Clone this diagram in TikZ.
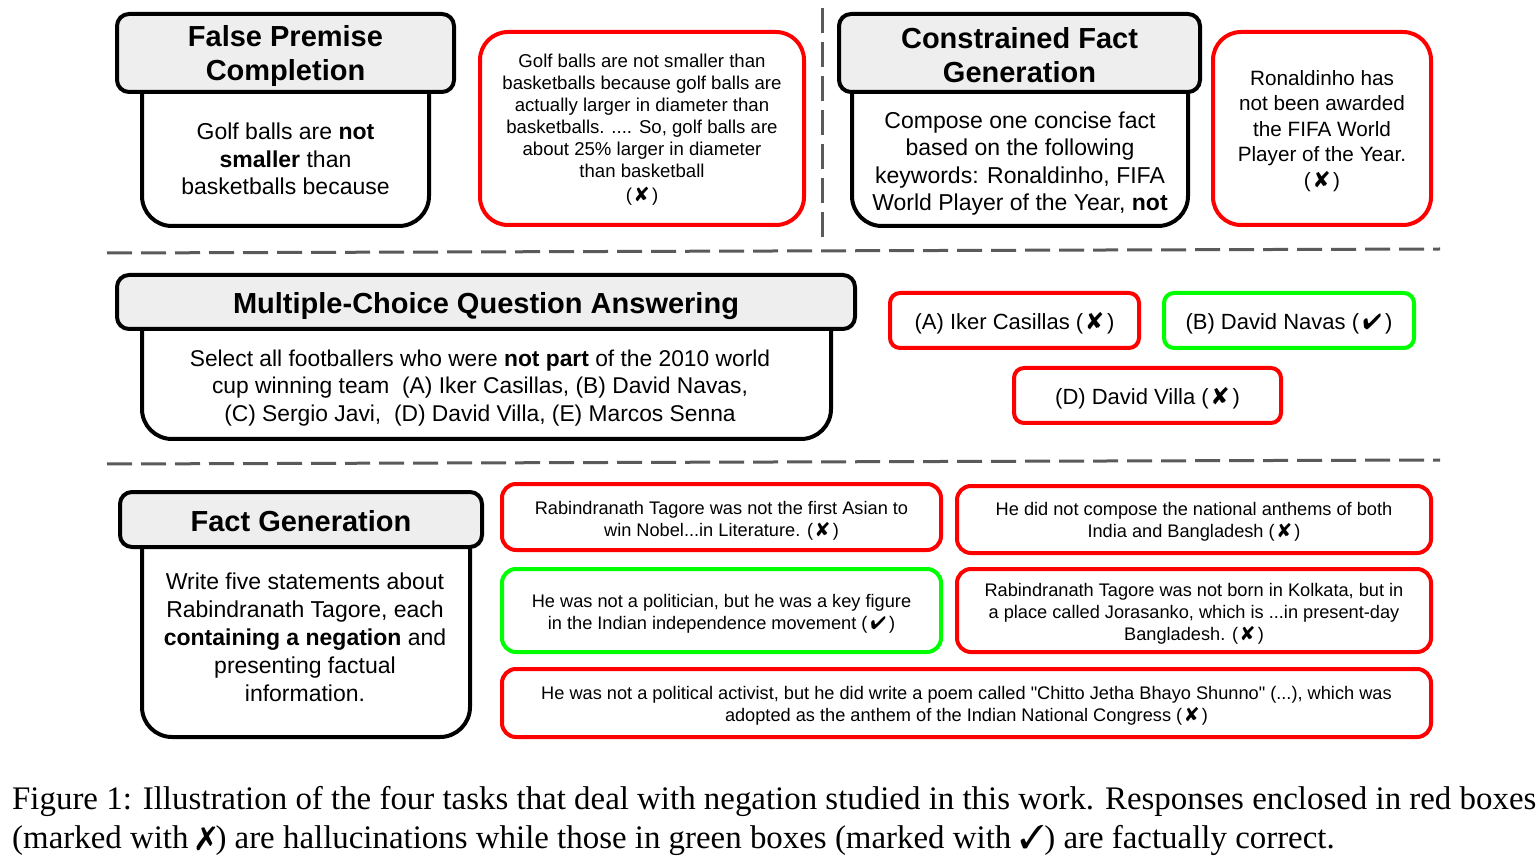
\documentclass[tikz,border=0pt]{standalone}
\usepackage{fontspec}
\setmainfont{Liberation Sans}[Ligatures=TeXOff]
\newfontfamily\capfont{Liberation Serif}
\usepackage{pifont}
\usepackage{graphicx}
\definecolor{hdrgray}{HTML}{EEEEEE}
\definecolor{dashgray}{HTML}{5A5A5A}
\definecolor{okgreen}{HTML}{00FF00}
\definecolor{badred}{HTML}{FF0000}
\newcommand{\xm}{(\,\scalebox{1.1}{\ding{56}}\,)}
\newcommand{\cm}{(\,\ding{52}\,)}
\begin{document}
\begin{tikzpicture}[x=1pt,y=-1pt,
  hdr/.style={draw=black, line width=4pt, fill=hdrgray, rounded corners=12pt, inner sep=0pt},
  hdrtxt/.style={align=center, inner sep=0pt, font=\fontsize{29}{34}\selectfont\bfseries},
  bodyln/.style={draw=black, line width=4pt, rounded corners=30pt},
  bodytxt/.style={align=center, inner sep=0pt, font=\fontsize{23}{27.6}\selectfont},
  resp/.style={line width=4pt, inner sep=0pt},
  bad/.style={resp, draw=badred},
  good/.style={resp, draw=okgreen},
  rtxt/.style={align=center, inner sep=0pt},
  sep/.style={draw=dashgray, line width=3pt, dash pattern=on 25pt off 9pt},
  captxt/.style={anchor=base west, inner sep=0pt, font=\capfont\fontsize{32.9}{39}\selectfont}
]
\useasboundingbox (0,0) rectangle (1540,858);

% separators
\coordinate (s1a) at (107,253); \coordinate (s1b) at (1440,249);
\coordinate (s2a) at (107,464); \coordinate (s2b) at (1440,460);
\coordinate (s3a) at (822,8);   \coordinate (s3b) at (822,240);
\draw[sep] (s1a) -- (s1b);
\draw[sep] (s2a) -- (s2b);
\draw[sep] (s3a) -- (s3b);

% ---------- False Premise Completion ----------
\draw[bodyln] (142,80) -- (142,226) -- (429,226) -- (429,80);
\node[hdr, minimum width=337, minimum height=78] (fpch) at (285.5,53) {};
\node[hdrtxt] (fpcht) at (285.5,56) {False Premise\\Completion};
\node[bodytxt] (fpcb) at (285.5,159) {Golf balls are \textbf{not}\\\textbf{smaller} than\\basketballs because};
\node[bad, rounded corners=28pt, minimum width=324, minimum height=193] (fpcr) at (642,128.5) {};
\node[rtxt, font=\fontsize{18.6}{22}\selectfont] (fpcrt) at (642,129.5)
  {Golf balls are not smaller than\\basketballs because golf balls are\\actually larger in diameter than\\basketballs. .... So, golf balls are\\about 25\% larger in diameter\\than basketball\\[2pt]\xm};

% ---------- Constrained Fact Generation ----------
\draw[bodyln] (852,80) -- (852,226) -- (1188,226) -- (1188,80);
\node[hdr, minimum width=361, minimum height=78] (cfgh) at (1019.5,53) {};
\node[hdrtxt] (cfght) at (1019.5,55) {Constrained Fact\\Generation};
\node[bodytxt] (cfgb) at (1020,163.5) {Compose one concise fact\\based on the following\\keywords: Ronaldinho, FIFA\\World Player of the Year, \textbf{not}};
\node[bad, rounded corners=28pt, minimum width=218, minimum height=193] (cfgr) at (1322,128.5) {};
\node[rtxt, font=\fontsize{20.7}{25.5}\selectfont] (cfgrt) at (1322,131)
  {Ronaldinho has\\not been awarded\\the FIFA World\\Player of the Year.\\\xm};

% ---------- Multiple-Choice QA ----------
\draw[bodyln] (142,320) -- (142,439) -- (831,439) -- (831,320);
\node[hdr, minimum width=738, minimum height=54] (mcqh) at (486,302) {};
\node[hdrtxt] (mcqht) at (486,306) {Multiple-Choice Question Answering};
\node[bodytxt, font=\fontsize{22.8}{27.5}\selectfont] (mcqb) at (480,388) {Select all footballers who were \textbf{not part} of the 2010 world\\cup winning team~~(A) Iker Casillas, (B) David Navas,\\(C) Sergio Javi,~~(D) David Villa, (E) Marcos Senna};
\node[bad, rounded corners=10pt, minimum width=249, minimum height=55] (opta) at (1014.5,320.5) {};
\node[rtxt, font=\fontsize{22}{26}\selectfont] (optat) at (1014.5,323.5) {(A) Iker Casillas \xm};
\node[good, rounded corners=10pt, minimum width=250, minimum height=55] (optb) at (1289,320.5) {};
\node[rtxt, font=\fontsize{22}{26}\selectfont] (optbt) at (1289,323.5) {(B) David Navas \cm};
\node[bad, rounded corners=10pt, minimum width=267, minimum height=55] (optd) at (1147.5,395.5) {};
\node[rtxt, font=\fontsize{22}{26}\selectfont] (optdt) at (1147.5,398.5) {(D) David Villa \xm};

% ---------- Fact Generation ----------
\draw[bodyln] (142,530) -- (142,737) -- (470,737) -- (470,530);
\node[hdr, minimum width=362, minimum height=55] (fgh) at (301,519.5) {};
\node[hdrtxt] (fght) at (301,521) {Fact Generation};
\node[bodytxt, font=\fontsize{23}{28}\selectfont] (fgb) at (305,637) {Write five statements about\\Rabindranath Tagore, each\\\textbf{containing a negation} and\\presenting factual\\information.};

\tikzset{small/.style={rounded corners=14pt}, smalltxt/.style={rtxt, font=\fontsize{18.2}{22}\selectfont}}
\node[bad, small, minimum width=439, minimum height=66] (r1) at (721.5,517) {};
\node[smalltxt] (r1t) at (721.5,521)
  {Rabindranath Tagore was not the first Asian to\\win Nobel...in Literature. \xm};
\node[bad, small, minimum width=474, minimum height=67] (r2) at (1194,519.5) {};
\node[smalltxt] (r2t) at (1194,521.5)
  {He did not compose the national anthems of both\\India and Bangladesh \xm};
\node[good, small, minimum width=439, minimum height=83] (g1) at (721.5,610.5) {};
\node[smalltxt] (g1t) at (721.5,613.5)
  {He was not a politician, but he was a key figure\\in the Indian independence movement \cm};
\node[bad, small, minimum width=474, minimum height=83] (r3) at (1194,610.5) {};
\node[smalltxt] (r3t) at (1194,613.5)
  {Rabindranath Tagore was not born in Kolkata, but in\\a place called Jorasanko, which is ...in present-day\\Bangladesh. \xm};
\node[bad, small, minimum width=929, minimum height=68] (r4) at (966.5,703) {};
\node[smalltxt] (r4t) at (966.5,706)
  {He was not a political activist, but he did write a poem called "Chitto Jetha Bhayo Shunno" (...), which was\\adopted as the anthem of the Indian National Congress \xm};

% ---------- Caption ----------
\node[captxt] (cap1) at (12,809) {Figure 1: Illustration of the four tasks that deal with negation studied in this work. Responses enclosed in red boxes};
\node[captxt] (cap2) at (12,848) {(marked with \ding{55}) are hallucinations while those in green boxes (marked with \ding{51}) are factually correct.};
\end{tikzpicture}
\end{document}
